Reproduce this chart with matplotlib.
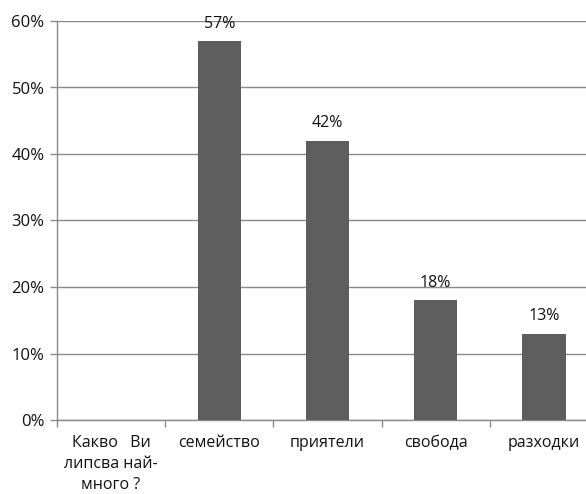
import matplotlib.pyplot as plt
import numpy as np
from matplotlib.ticker import FixedLocator, PercentFormatter

plt.rcParams['font.family'] = ['Open Sans', 'DejaVu Sans']

categories = ['Какво   Ви\nлипсва най-\nмного ?', 'семейство', 'приятели', 'свобода', 'разходки']
values = [np.nan, 57, 42, 18, 13]
yticks = [0, 10, 20, 30, 40, 50, 60]

fig = plt.figure(figsize=(5.86, 4.94), dpi=100)
ax = fig.add_axes([57/586, 74/494, 541/586, 399/494])

x = np.arange(len(categories))
bars = ax.bar(x, values, width=0.4, color='#5e5e5e', zorder=3)
for xi, v in zip(x, values):
    if np.isnan(v):
        continue
    ax.text(xi, v + 1.4, '{:.0f}%'.format(v), ha='center', va='bottom', fontsize=11.5, color='#111111')

ax.set_xlim(-0.5, len(categories) - 0.5)
ax.set_ylim(0, 60)
ax.set_yticks(yticks)
ax.yaxis.set_major_formatter(PercentFormatter(decimals=0))
ax.grid(axis='y', color='#8a8a8a', linewidth=1.0, zorder=0)

ax.set_xticks(x)
ax.set_xticklabels(categories, fontsize=11.5, color='#111111', linespacing=1.4, va='top')
ax.xaxis.set_minor_locator(FixedLocator(np.arange(-0.5, len(categories), 1.0)))
ax.tick_params(axis='x', which='major', length=0, pad=11)
ax.tick_params(axis='x', which='minor', length=5, color='#8a8a8a', width=1)
ax.tick_params(axis='y', length=5, color='#8a8a8a', width=1, labelsize=12, labelcolor='#111111', pad=4)

for s in ['top', 'right']:
    ax.spines[s].set_visible(False)
for s in ['left', 'bottom']:
    ax.spines[s].set_color('#8a8a8a')
    ax.spines[s].set_linewidth(1.0)

fig.savefig('out.png', dpi=100)
